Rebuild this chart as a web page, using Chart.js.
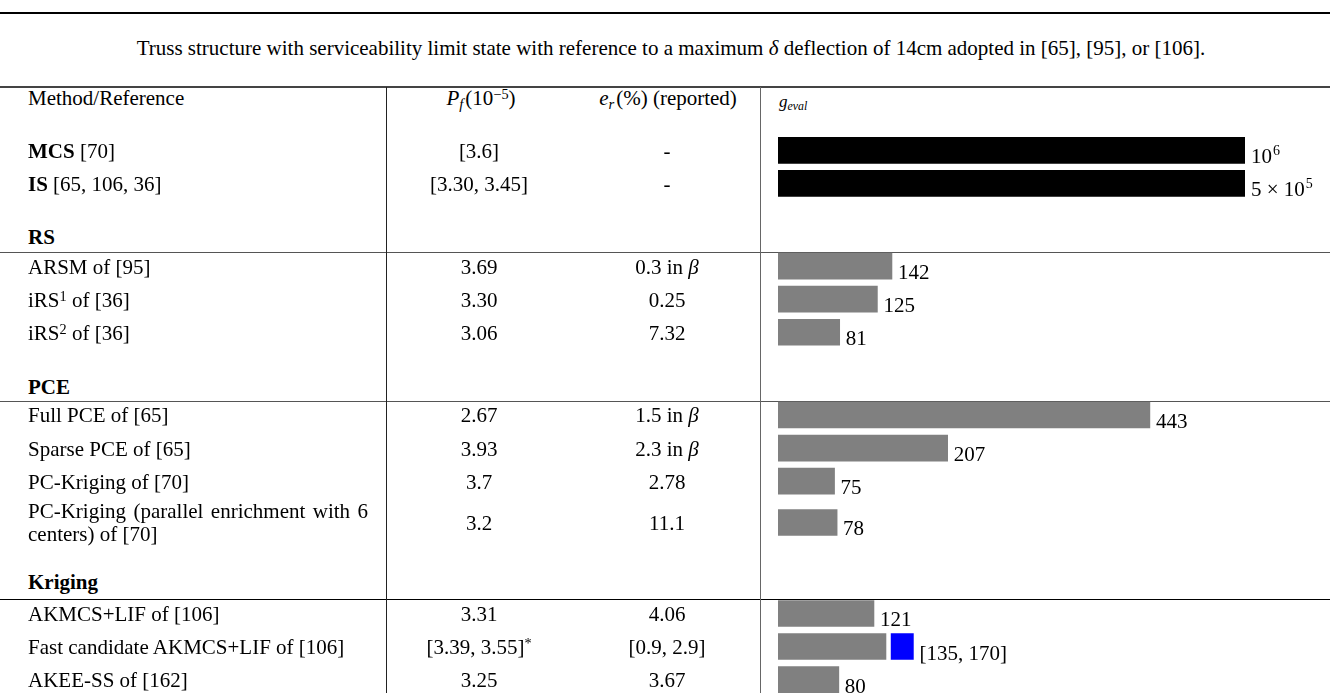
<!DOCTYPE html>
<html>
<head>
<meta charset="utf-8">
<script src="https://cdn.jsdelivr.net/npm/chart.js@4.4.0/dist/chart.umd.min.js"></script>
<style>
  html, body { margin: 0; padding: 0; background: #fff; }
  body { width: 1330px; height: 693px; position: relative; overflow: hidden;
         font-family: "Liberation Serif", "Times New Roman", serif; font-size: 21px; color: #000; }
  .hr { position: absolute; left: 0; width: 1330px; height: 1px; }
  .vr { position: absolute; top: 87px; height: 606px; width: 1px; }
  .t { position: absolute; white-space: nowrap; line-height: 23px; }
  .c { width: 300px; text-align: center; }
  .m { width: 340px; white-space: normal; text-align: justify; }
  sup { font-size: 0.68em; line-height: 0; vertical-align: 0.45em; }
  sub { font-size: 0.7em; line-height: 0; vertical-align: -0.25em; margin-right: 2px; }
  #chart { position: absolute; left: 0; top: 0; }
</style>
</head>
<body>
<div class="hr" style="top:12px;background:#000;height:1.5px"></div>
<div class="t" style="left:6px;top:37px;width:1330px;text-align:center">Truss structure with serviceability limit state with reference to a maximum <i>δ</i> deflection of 14cm adopted in [65], [95], or [106].</div>
<div class="hr" style="top:86px;background:#444;height:1.5px"></div>
<div class="hr" style="top:252px;background:#555"></div>
<div class="hr" style="top:401px;background:#555"></div>
<div class="hr" style="top:599px;background:#000"></div>
<div class="vr" style="left:386px;background:#222"></div>
<div class="vr" style="left:760px;background:#666"></div>

<div class="t" style="left:28px;top:87px">Method/Reference</div>
<div class="t c" style="left:331px;top:87px"><i>P</i><sub><i>f</i></sub>(10<sup>−5</sup>)</div>
<div class="t c" style="left:518px;top:87px"><i>e</i><sub><i>r</i></sub>(%) (reported)</div>
<div class="t" style="left:779px;top:90px;font-size:17px"><i>g<sub>eval</sub></i></div>

<div class="t" style="left:28px;top:226px"><b>RS</b></div>
<div class="t" style="left:28px;top:376px"><b>PCE</b></div>
<div class="t" style="left:28px;top:571px"><b>Kriging</b></div>

<canvas id="chart" width="1330" height="693"></canvas>
<script>
// table rows (top to bottom)
const methods = ['MCS [70]', 'IS [65, 106, 36]', 'ARSM of [95]', 'iRS^1 of [36]', 'iRS^2 of [36]',
    'Full PCE of [65]', 'Sparse PCE of [65]', 'PC-Kriging of [70]',
    'PC-Kriging (parallel enrichment with 6 centers) of [70]',
    'AKMCS+LIF of [106]', 'Fast candidate AKMCS+LIF of [106]', 'AKEE-SS of [162]'];
const pfText = ['[3.6]', '[3.30, 3.45]', '3.69', '3.30', '3.06', '2.67', '3.93', '3.7', '3.2',
    '3.31', '[3.39, 3.55]^*', '3.25'];
const erText = ['-', '-', '0.3 in β', '0.25', '7.32', '1.5 in β', '2.3 in β', '2.78', '11.1',
    '4.06', '[0.9, 2.9]', '3.67'];
// number of g evaluations
const gEval = [1e6, 5e5, 142, 125, 81, 443, 207, 75, 78, 121, 135, 80];
const gLabels = ['10^6', '5 × 10^5', '142', '125', '81', '443', '207', '75', '78', '121', '[135, 170]', '80'];
// blue range segment on the fast candidate row
const fastRange = [141, 167];
const boldLead = ['MCS', 'IS'];

// layout: quarter-row slot of each table row
const rowSlot = [0, 4, 14, 18, 22, 32, 36, 40, 45, 56, 60, 64];
const nSlots = 65;
const fastRow = 10;

const slotLabels = Array(nSlots).fill('');
const slotValues = Array(nSlots).fill(null);
const slotRange = Array(nSlots).fill(null);
const slotText = Array(nSlots).fill(null);
const slotColors = Array(nSlots).fill('#808080');
rowSlot.forEach((s, i) => {
    slotLabels[s] = methods[i];
    slotValues[s] = gEval[i];
    slotText[s] = gLabels[i];
    if (i < 2) slotColors[s] = '#000000';
});
slotRange[rowSlot[fastRow]] = fastRange;

const FONT = '21px "Liberation Serif"';
const SUP = '14px "Liberation Serif"';
function drawRich(ctx, s, x, y) {
    const parts = s.split('^');
    ctx.font = FONT;
    ctx.fillText(parts[0], x, y);
    if (parts[1]) {
        const w = ctx.measureText(parts[0]).width;
        ctx.font = SUP;
        ctx.fillText(parts[1], x + w + 1, y - 8);
    }
}

const valueLabels = {
    id: 'valueLabels',
    afterDatasetsDraw(chart) {
        const ctx = chart.ctx;
        const area = chart.chartArea;
        const main = chart.getDatasetMeta(0).data;
        const extra = chart.getDatasetMeta(1).data;
        ctx.save();
        ctx.fillStyle = '#000';
        ctx.textBaseline = 'alphabetic';
        main.forEach((bar, i) => {
            if (!slotText[i]) return;
            let x = Math.min(bar.x, area.right);
            if (slotRange[i]) x = Math.max(x, extra[i].x);
            drawRich(ctx, slotText[i], x + 6, bar.y + bar.height / 2);
        });
        ctx.restore();
    }
};

// keep bars clipped at the right edge but let them overflow the slot rows vertically
const barClip = { left: 0, right: 0, top: 20, bottom: 20 };

const chart = new Chart(document.getElementById('chart'), {
    type: 'bar',
    data: {
        labels: slotLabels,
        datasets: [
            { data: slotValues, backgroundColor: slotColors, barThickness: 26, grouped: false, clip: barClip },
            { data: slotRange, backgroundColor: '#0000ff', barThickness: 26, grouped: false, clip: barClip }
        ]
    },
    options: {
        indexAxis: 'y',
        responsive: false,
        animation: false,
        layout: { padding: { left: 778, right: 85, top: 146.2, bottom: 9.25 } },
        plugins: { legend: { display: false }, tooltip: { enabled: false } },
        scales: {
            x: { type: 'linear', display: false, min: 9, max: 554 },
            y: { display: false }
        }
    },
    plugins: [valueLabels]
});

function fmt(s) {
    s = s.replace(/\^(\S+)/g, '<sup>$1</sup>').replace('β', '<i>β</i>');
    boldLead.forEach(b => { if (s.startsWith(b + ' ')) s = '<b>' + b + '</b>' + s.slice(b.length); });
    return s;
}
function addText(html, left, yc, cls) {
    const d = document.createElement('div');
    d.className = 't ' + cls;
    d.style.left = left + 'px';
    d.innerHTML = html;
    document.body.appendChild(d);
    d.style.top = (yc - d.offsetHeight / 2) + 'px';
}
const yScale = chart.scales.y;
rowSlot.forEach((s, i) => {
    const yc = yScale.getPixelForValue(s) + 1;
    addText(fmt(methods[i]), 28, yc, 'm');
    addText(fmt(pfText[i]), 329, yc, 'c');
    addText(fmt(erText[i]), 517, yc, 'c');
});
</script>
</body>
</html>
